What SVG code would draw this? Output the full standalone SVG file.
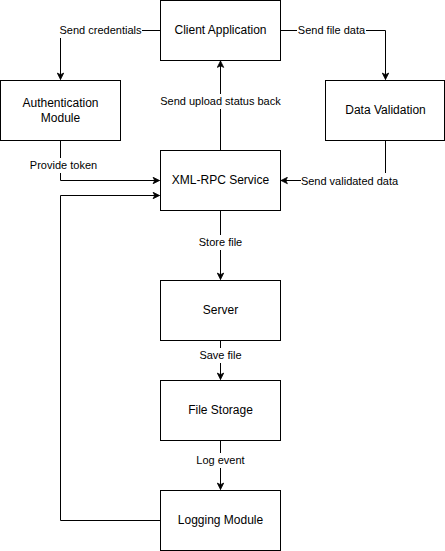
<svg xmlns="http://www.w3.org/2000/svg" width="445" height="551" viewBox="0 0 445 551">
<defs>
<marker id="arr" viewBox="0 0 10 10" refX="9" refY="5" markerWidth="8" markerHeight="8" markerUnits="userSpaceOnUse" orient="auto">
<path d="M1,1 L9,5 L1,9 L3,5 Z" fill="#000" stroke="#000" stroke-width="1"/>
</marker>
</defs>
<style>
.box{fill:#fff;stroke:#000;stroke-width:1}
.lbl{font-family:"Liberation Sans",Arial,sans-serif;font-size:12px;fill:#000;text-anchor:middle;dominant-baseline:central}
.el{font-family:"Liberation Sans",Arial,sans-serif;font-size:11px;fill:#000;text-anchor:middle;dominant-baseline:central}
.ln{fill:none;stroke:#000;stroke-width:1;marker-end:url(#arr)}
.bg{fill:#fff}
</style>
<rect width="445" height="551" fill="#fff"/>
<g id="connectors">
<path class="ln" d="M160.5,30.5 H60.5 V79.5"/>
<path class="ln" d="M280.5,30.5 H385.5 V79.5"/>
<path class="ln" d="M220.5,150.5 V61"/>
<path class="ln" d="M60.5,140.5 V180.5 H159.5"/>
<path class="ln" d="M385.5,140.5 V180.5 H281"/>
<path class="ln" d="M160.5,520.5 H60.5 V195.5 H159.5"/>
<path class="ln" d="M220.5,210.5 V279.5"/>
<path class="ln" d="M220.5,340.5 V379.5"/>
<path class="ln" d="M220.5,440.5 V489.5"/>
<rect class="bg" x="59" y="23" width="83" height="15"/>
<text class="el" x="100.5" y="30">Send credentials</text>
<rect class="bg" x="297" y="23" width="69" height="15"/>
<text class="el" x="331.5" y="30">Send file data</text>
<rect class="bg" x="158" y="94" width="125" height="15"/>
<text class="el" x="220.5" y="101">Send upload status back</text>
<rect class="bg" x="29" y="158" width="69" height="15"/>
<text class="el" x="63.5" y="165">Provide token</text>
<rect class="bg" x="301" y="173" width="97" height="15"/>
<text class="el" x="349.5" y="181">Send validated data</text>
<rect class="bg" x="194" y="235" width="53" height="15"/>
<text class="el" x="220.5" y="242">Store file</text>
<rect class="bg" x="196" y="348" width="49" height="15"/>
<text class="el" x="220.5" y="355">Save file</text>
<rect class="bg" x="194" y="453" width="53" height="15"/>
<text class="el" x="220.5" y="460">Log event</text>
</g>
<g id="client"><rect class="box" x="160.5" y="0.5" width="120" height="60"/><text class="lbl" x="220.5" y="30">Client Application</text></g>
<g id="auth"><rect class="box" x="0.5" y="80.5" width="120" height="60"/><text class="lbl" x="60.5" y="103">Authentication</text><text class="lbl" x="60.5" y="118">Module</text></g>
<g id="validation"><rect class="box" x="325.5" y="80.5" width="119" height="60"/><text class="lbl" x="385.5" y="110">Data Validation</text></g>
<g id="xmlrpc"><rect class="box" x="160.5" y="150.5" width="120" height="60"/><text class="lbl" x="220.5" y="180">XML-RPC Service</text></g>
<g id="server"><rect class="box" x="160.5" y="280.5" width="120" height="60"/><text class="lbl" x="220.5" y="310">Server</text></g>
<g id="storage"><rect class="box" x="160.5" y="380.5" width="120" height="60"/><text class="lbl" x="220.5" y="410">File Storage</text></g>
<g id="logging"><rect class="box" x="160.5" y="490.5" width="120" height="60"/><text class="lbl" x="220.5" y="520">Logging Module</text></g>
</svg>
